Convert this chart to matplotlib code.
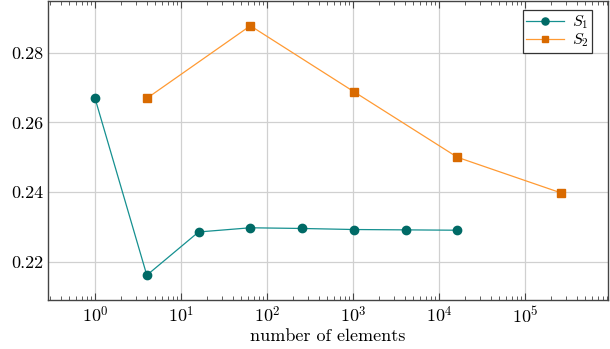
import math

import matplotlib

matplotlib.use("Agg")
import matplotlib.pyplot as plt
from matplotlib.ticker import LogLocator, NullFormatter, FixedLocator

plt.rcParams["font.family"] = "cmr10"
plt.rcParams["mathtext.fontset"] = "cm"
plt.rcParams["axes.formatter.use_mathtext"] = True

# data
s1_x = [1, 4, 16, 64, 256, 1024, 4096, 16384]
s1_y = [0.2669, 0.2162, 0.2286, 0.2298, 0.2296, 0.2293, 0.2292, 0.2291]
s2_x = [4, 64, 1024, 16384, 262144]
s2_y = [0.2669, 0.2877, 0.2688, 0.2500, 0.2398]
x_ticks = [1, 10, 100, 1000, 10000, 100000]
y_ticks = [0.22, 0.24, 0.26, 0.28]

fig = plt.figure(figsize=(6.10, 3.49), dpi=100)
ax = fig.add_axes([48 / 610, 49 / 349, 560 / 610, 299 / 349])

ax.plot(s1_x, s1_y, color="#159090", lw=0.9, marker="o", ms=6,
        mfc="#006a66", mec="#006a66", label="$S_1$", zorder=3)
ax.plot(s2_x, s2_y, color="#ff9a33", lw=0.9, marker="s", ms=5.3,
        mfc="#d96a00", mec="#d96a00", label="$S_2$", zorder=3)

ax.set_xscale("log")
ax.set_xlim(10 ** -0.547, 10 ** 5.965)
ax.set_ylim(0.2091, 0.2948)
ax.yaxis.set_major_locator(FixedLocator(y_ticks))
ax.yaxis.set_major_formatter(plt.FuncFormatter(lambda v, p: f"{v:.2f}"))
ax.xaxis.set_major_locator(FixedLocator(x_ticks))
ax.xaxis.set_major_formatter(plt.FuncFormatter(lambda v, p: f"$10^{{{int(round(math.log10(v)))}}}$"))
ax.xaxis.set_minor_locator(LogLocator(base=10, subs=range(2, 10), numticks=20))
ax.xaxis.set_minor_formatter(NullFormatter())

ax.grid(True, which="major", color="#d0d0d0", lw=0.9)
ax.set_axisbelow(True)
ax.tick_params(which="both", direction="in", top=True, right=True, labelsize=13,
               color="#444444")
ax.tick_params(which="major", length=5)
ax.tick_params(which="minor", length=3)
ax.tick_params(axis="y", length=0)
for sp in ax.spines.values():
    sp.set_color("#444444")
    sp.set_linewidth(1.0)

ax.set_xlabel("number of elements", fontsize=13, labelpad=2)

leg = ax.legend(loc="upper right", fancybox=False, edgecolor="#333333",
                framealpha=1, fontsize=11.5, handlelength=2.4, handletextpad=0.5,
                borderpad=0.2, labelspacing=0.05, borderaxespad=0,
                bbox_to_anchor=(544 / 560, 1 - 9 / 299), markerscale=0.85)
leg.get_frame().set_linewidth(0.9)

fig.savefig("out.png", dpi=100)
